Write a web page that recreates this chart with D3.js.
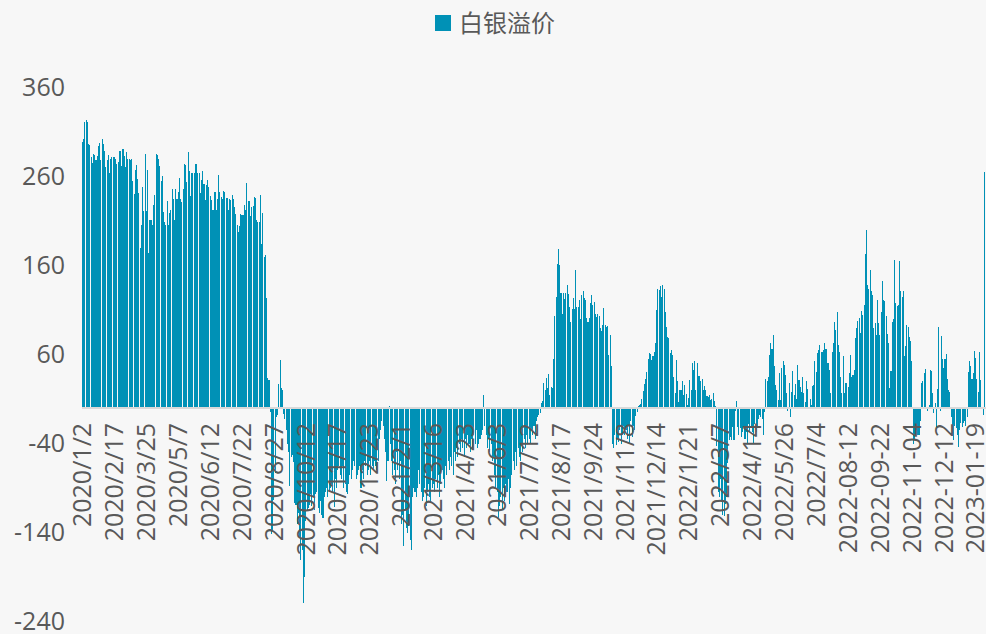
<!DOCTYPE html>
<html><head><meta charset="utf-8">
<script src="https://cdn.jsdelivr.net/npm/d3@7/dist/d3.min.js"></script>
<style>
html,body{margin:0;padding:0;background:#f7f7f7;}
svg{display:block;}
</style></head>
<body>
<svg id="chart" width="986" height="634"></svg>
<script>
const seriesName = "白银溢价";
const tickLabels = ["2020/1/2","2020/2/17","2020/3/25","2020/5/7","2020/6/12","2020/7/22","2020/8/27","2020/10/12","2020/11/17","2020/12/23","2021/2/1","2021/3/16","2021/4/23","2021/6/3","2021/7/12","2021/8/17","2021/9/24","2021/11/8","2021/12/14","2022/1/21","2022/3/7","2022/4/14","2022/5/26","2022/7/4","2022-08-12","2022-09-22","2022-11-04","2022-12-12","2023-01-19"];
const tickStep = 26;
const yTicks = [-240,-140,-40,60,160,260,360];
const values = [
299,302,321,324,321,297,295,282,275,285,284,278,283,294,298,278,302,297,289,271,278,284,264,280,282,282,
282,280,274,276,289,289,272,291,283,271,287,280,280,279,280,255,240,267,273,257,242,180,206,248,221,285,
221,267,174,211,211,205,228,239,285,284,280,272,255,261,220,209,206,233,206,219,222,246,235,211,246,235,
243,258,235,231,246,274,273,254,287,266,238,264,264,264,274,274,264,264,241,256,266,252,234,251,256,248,
238,234,222,222,243,222,235,262,243,237,235,244,243,236,236,222,235,234,239,235,226,218,206,198,204,218,
217,217,228,222,253,232,232,216,226,227,237,236,211,209,209,239,184,219,169,172,124,34,31,-5,-142,-137,
-103,-73,-10,-8,27,54,22,20,-7,-12,-25,-40,-49,-88,-55,-53,-61,-107,-109,-131,-118,-146,-171,-160,-219,-190,
-127,-116,-112,-109,-97,-110,-100,-115,-97,-94,-112,-118,-105,-120,-124,-100,-95,-90,-100,-95,-90,-85,-95,-111,-80,-90,
-70,-65,-75,-80,-65,-90,-85,-95,-97,-85,-75,-80,-70,-60,-65,-80,-75,-70,-65,-90,-70,-80,-60,-65,-75,-70,
-60,-75,-65,-70,-60,-65,-70,-60,-35,-25,-15,-20,-35,-50,-82,-60,2,-40,-60,-75,-70,-85,-50,-70,-80,-60,
-130,-120,-155,-115,-135,-140,-133,-148,-160,-100,-90,-95,-100,-90,-70,-85,-95,-105,-100,-90,-110,-95,-85,-100,-105,-90,
-85,-95,-80,-90,-75,-100,-85,-70,-80,-90,-65,-75,-60,-70,-55,-65,-75,-50,-60,-45,-55,-40,-50,-35,-45,-55,
-35,-45,-30,-40,-50,-35,-45,-30,-40,-25,-45,-40,-35,-30,-25,15,-20,-30,-45,-35,-50,-40,-60,-55,-75,-90,
-95,-125,-110,-100,-115,-90,-105,-85,-95,-80,-108,-90,-75,-60,-70,-50,-65,-45,-55,-60,-40,-50,-35,-45,-30,-40,
-35,-40,-25,-30,-20,-35,-15,-10,-8,-6,5,8,28,20,34,22,38,15,23,22,55,103,125,162,179,161,
129,106,129,122,129,138,128,113,97,111,124,111,155,113,113,121,100,127,131,124,121,101,97,101,118,127,
116,119,105,102,105,103,90,86,93,112,93,91,92,60,82,47,-40,-45,-30,-42,-35,-38,-25,-40,-30,-20,
-30,-25,-35,-20,-40,-15,-33,-20,-25,-9,-5,2,3,4,10,19,27,32,40,55,62,61,54,58,63,73,
110,134,132,137,125,138,134,108,91,80,78,62,65,60,35,17,54,30,7,20,20,30,15,26,16,3,
11,31,20,50,43,53,20,51,36,36,30,32,20,25,20,13,12,15,9,10,17,8,2,-43,-94,-100,
-80,-103,-120,-122,-108,-100,-62,-36,-33,-36,-21,-36,-4,8,-21,-30,-23,-33,-27,-21,-35,-27,-40,-18,-27,-21,
-27,-40,-18,-27,-21,-12,-8,-10,-12,-30,-5,33,30,35,60,73,66,82,47,26,20,9,39,9,45,53,
48,37,17,-3,28,-10,18,41,15,27,10,48,31,24,18,35,17,7,30,21,1,10,3,25,26,53,
40,62,65,71,63,63,65,73,66,51,51,43,17,63,73,97,87,108,71,63,35,17,58,17,28,28,
24,39,60,35,37,43,78,90,98,101,84,109,104,116,173,200,138,134,155,131,127,90,95,82,121,95,
82,108,143,121,120,103,83,73,22,41,97,100,166,118,115,116,165,131,125,131,58,70,93,91,80,75,
53,-40,-36,-32,-25,-30,-30,-15,28,30,39,44,1,-3,3,43,41,17,-6,5,-23,21,91,-4,81,55,
45,55,61,33,20,18,-10,-28,-36,-20,-23,-30,-44,-25,-17,-22,-17,-15,-20,-10,40,53,47,33,39,64,
56,32,18,63,31,1,-8,265
];
const categories = d3.range(values.length);

const W = 986, H = 634;
const svg = d3.select("#chart");
const barColor = "#0091b6";
const textColor = "#595959";
const fontFam = "'Open Sans','Noto Sans','Noto Sans CJK SC',sans-serif";

svg.append("rect").attr("width", W).attr("height", H).attr("fill", "#f7f7f7");

const x = d3.scaleBand().domain(categories).range([82, 82 + values.length * 1.2266]).paddingInner(0.15).paddingOuter(0);
const y = d3.scaleLinear().domain([-240, 360]).range([621.5, 87.5]);

svg.append("g").selectAll("rect").data(values).join("rect")
  .attr("x", (d, i) => x(i))
  .attr("width", x.bandwidth())
  .attr("y", d => y(Math.max(0, d)))
  .attr("height", d => Math.abs(y(d) - y(0)))
  .attr("fill", barColor)
  .attr("shape-rendering", "crispEdges");

// zero axis line
svg.append("line")
  .attr("x1", 82).attr("x2", 986)
  .attr("y1", y(0)).attr("y2", y(0))
  .attr("stroke", "#d9d9d9").attr("stroke-width", 2);

// y axis labels
svg.append("g").selectAll("text").data(yTicks).join("text")
  .attr("x", 65).attr("y", d => y(d)).attr("dy", "0.35em")
  .attr("text-anchor", "end")
  .attr("font-family", fontFam).attr("font-size", 25).attr("fill", textColor)
  .text(d => d);

// x labels
svg.append("g").selectAll("text").data(tickLabels).join("text")
  .attr("transform", (d, j) => `translate(${x(j * tickStep) + x.bandwidth() / 2},${y(0) + 15}) rotate(-90)`)
  .attr("dy", "0.35em")
  .attr("text-anchor", "end")
  .attr("font-family", fontFam).attr("font-size", 25).attr("fill", textColor)
  .text(d => d);

// legend
const lg = svg.append("g");
lg.append("rect").attr("x", 435).attr("y", 15).attr("width", 16).attr("height", 16).attr("fill", barColor);
lg.append("text").attr("x", 459).attr("y", 24).attr("dy", "0.35em")
  .attr("font-family", "'Noto Sans CJK SC',sans-serif").attr("font-size", 24).attr("fill", textColor)
  .text(seriesName);
</script>
</body></html>
